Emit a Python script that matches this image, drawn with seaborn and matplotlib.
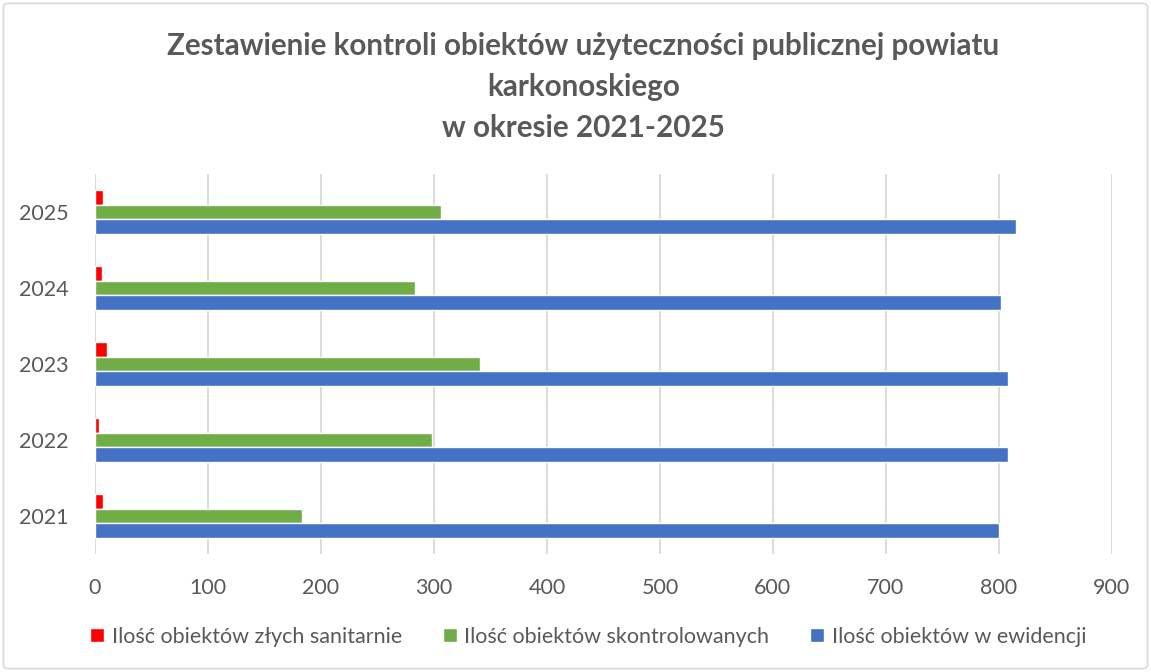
import matplotlib
matplotlib.use("Agg")
import matplotlib.pyplot as plt
import seaborn as sns
import pandas as pd
from matplotlib.patches import FancyBboxPatch

years = ["2025", "2024", "2023", "2022", "2021"]
zle_sanitarnie = [7, 6, 11, 4, 7]
skontrolowane = [306, 283, 341, 298, 183]
w_ewidencji = [815, 802, 808, 808, 800]
series_names = ["Ilość obiektów złych sanitarnie",
                "Ilość obiektów skontrolowanych",
                "Ilość obiektów w ewidencji"]
colors = ["#FF0000", "#70AD47", "#4472C4"]
xticks = [0, 100, 200, 300, 400, 500, 600, 700, 800, 900]
title = "Zestawienie kontroli obiektów użyteczności publicznej powiatu\nkarkonoskiego\nw okresie 2021-2025"

rows = []
for name, vals in zip(series_names, [zle_sanitarnie, skontrolowane, w_ewidencji]):
    for y, v in zip(years, vals):
        rows.append({"rok": y, "seria": name, "wartosc": v})
df = pd.DataFrame(rows)

sns.set_theme(style="white")
plt.rcParams["font.family"] = ["Lato", "DejaVu Sans"]
gray = "#595959"

fig = plt.figure(figsize=(11.51, 6.72), dpi=100)
ax = fig.add_axes([0.0825, 0.1756, 0.8835, 0.5655])

sns.barplot(data=df, x="wartosc", y="rok", hue="seria", order=years,
            hue_order=series_names, palette=colors, orient="h",
            width=0.58, ax=ax, saturation=1, legend=True, zorder=3)

ax.set_xlim(0, 900)
ax.set_xticks(xticks)
ax.set_xticklabels([str(t) for t in xticks])
ax.set_ylim(4.5, -0.5)
ax.set_xlabel("")
ax.set_ylabel("")
ax.grid(axis="x", color="#d9d9d9", linewidth=1.3, zorder=0)
ax.grid(axis="y", visible=False)
ax.set_axisbelow(True)
for s in ax.spines.values():
    s.set_visible(False)
ax.tick_params(axis="both", length=0, labelsize=15.5, labelcolor=gray)
ax.tick_params(axis="x", pad=17)
ax.tick_params(axis="y", pad=19)

leg = ax.legend(loc="upper center", bbox_to_anchor=(0.485, -0.14), ncol=3,
                frameon=False, fontsize=15.5, handlelength=0.65, handleheight=0.65,
                handletextpad=0.35, columnspacing=1.9)
for t in leg.get_texts():
    t.set_color(gray)

fig.text(0.507, 0.952, title, ha="center", va="top", fontsize=21.3,
         fontweight="bold", color=gray, linespacing=1.55)

border = FancyBboxPatch((0.003, 0.005), 0.994, 0.99, boxstyle="round,pad=0,rounding_size=0.005",
                        transform=fig.transFigure, fill=False, edgecolor="#d9d9d9",
                        linewidth=1.2)
fig.patches.append(border)

fig.savefig("out.png", dpi=100)
